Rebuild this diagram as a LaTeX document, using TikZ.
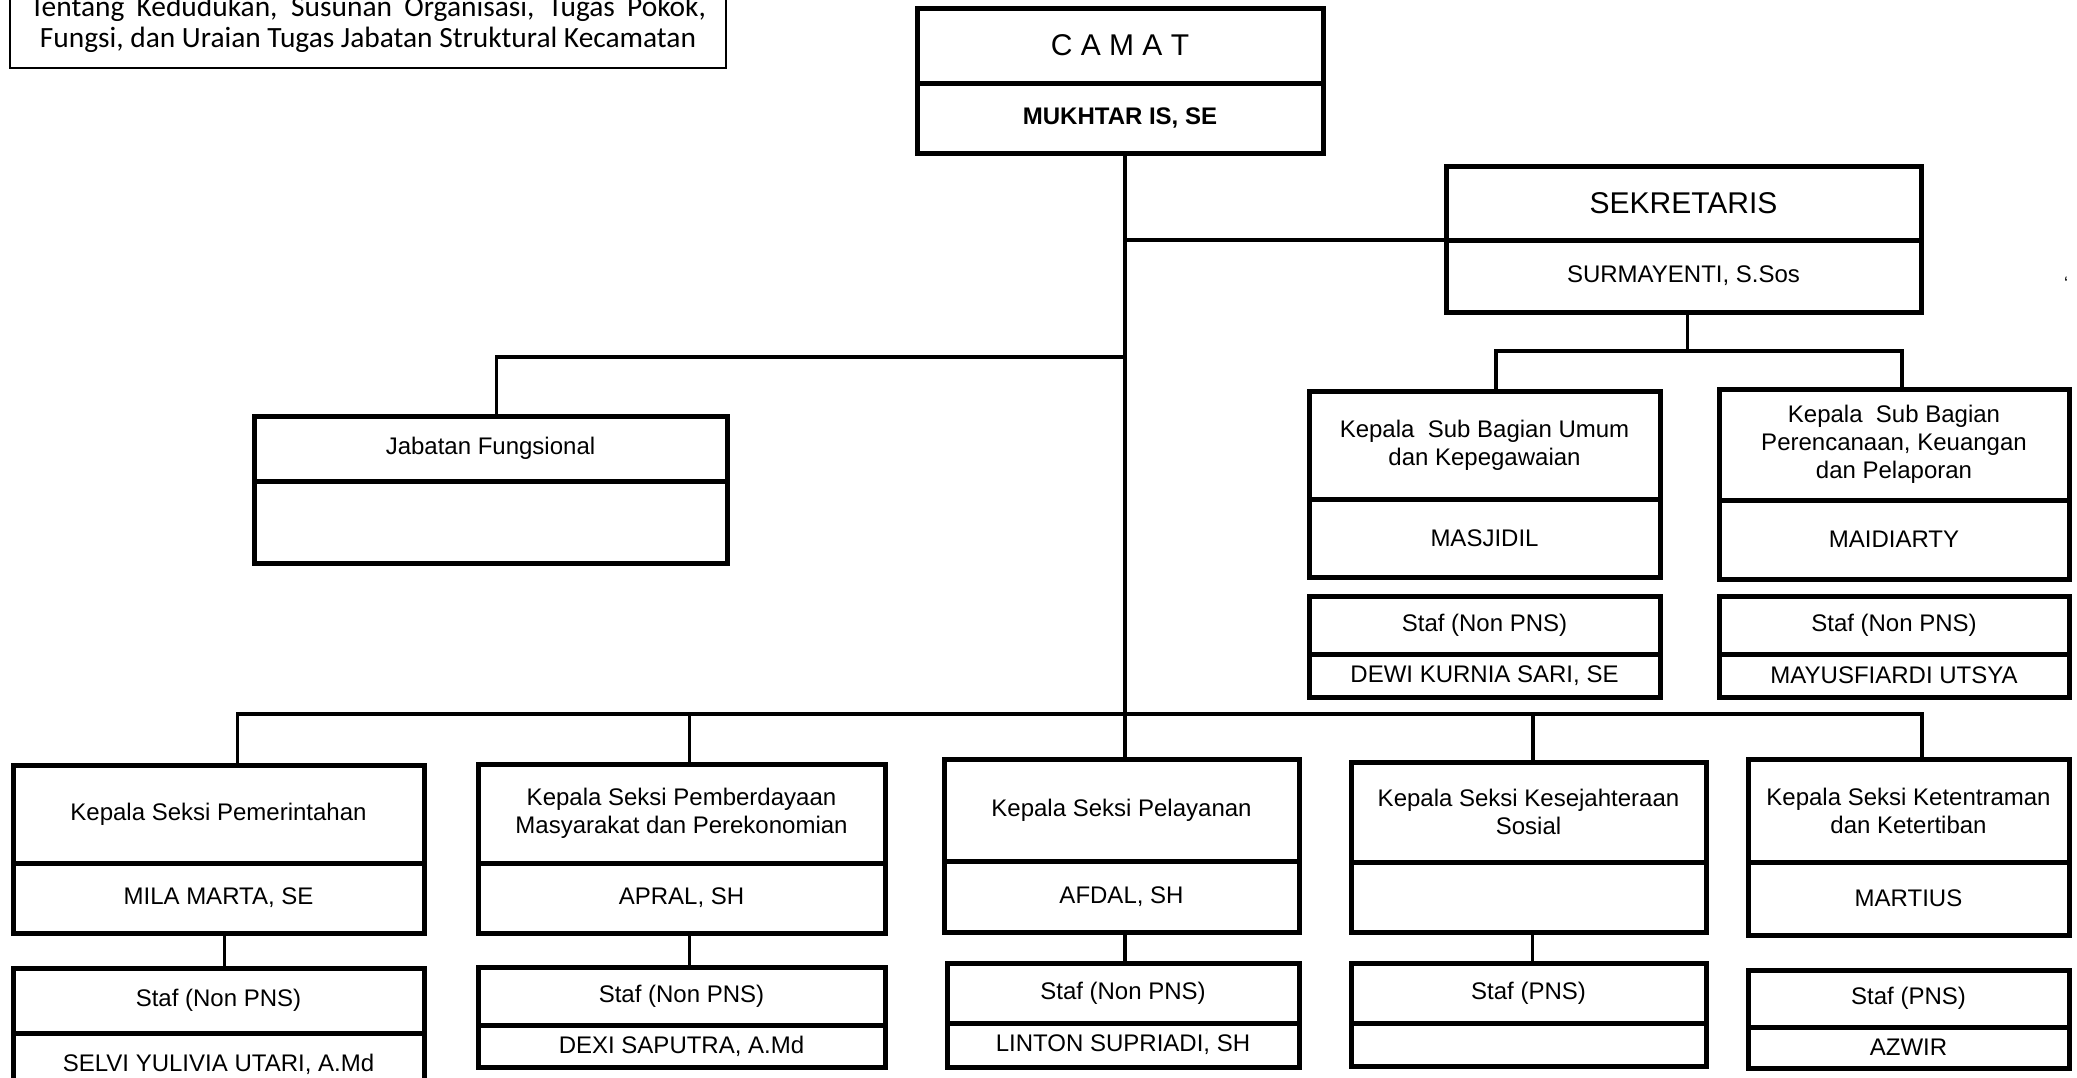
\documentclass[tikz,border=0pt]{standalone}
\usepackage{fontspec}
\setmainfont{Liberation Sans}
\newfontfamily\calfont{Carlito}
\newcommand\partbox[6]{%
  \node[part, minimum width={(#4-#2)*0.5pt}, minimum height={(#5-#3)*0.5pt}] (#1) at (#2,#3) {#6};}
\begin{document}
\begin{tikzpicture}[x=0.5pt,y=-0.5pt,
  part/.style={draw, line width=2.5pt, anchor=north west, inner sep=0pt, outer sep=0pt,
    align=center, font=\fontsize{12}{14}\selectfont},
  conn/.style={line width=1.75pt},
  notebox/.style={draw, line width=0.9pt, anchor=south, inner xsep=0pt, inner ysep=0pt,
    minimum width=358pt, align=center, font=\calfont\fontsize{14.7}{15.3}\selectfont}]
\useasboundingbox (0,0) rectangle (2077,1077);
\fill[white] (0,0) rectangle (2077,1077);
\clip (0,0) rectangle (2077,1077);

% note box (partly cut at the top)
\node[notebox] (note) at (368,69)
  {\makebox[338pt][s]{Tentang Kedudukan, Susunan Organisasi, Tugas Pokok,}\\
   Fungsi, dan Uraian Tugas Jabatan Struktural Kecamatan\rule[-10.5pt]{0pt}{1pt}};

% Camat
\partbox{camat-t}{917}{8}{1323}{83}{\fontsize{15}{18}\selectfont C A M A T}
\partbox{camat-b}{917}{83}{1323}{153}{\bfseries MUKHTAR IS, SE}
% Sekretaris
\partbox{sek-t}{1446}{166}{1921}{240}{\fontsize{15}{18}\selectfont SEKRETARIS}
\partbox{sek-b}{1446}{240}{1921}{312}{SURMAYENTI, S.Sos}
\node[font=\fontsize{9}{9}\selectfont] (tick) at (2066,283) {‘};
% Jabatan Fungsional
\partbox{jab-t}{254}{416}{727}{481}{Jabatan Fungsional}
\partbox{jab-b}{254}{481}{727}{563}{}
% Sub bagian
\partbox{umum-t}{1309}{391}{1660}{499}{Kepala\ \ Sub Bagian Umum\\dan Kepegawaian}
\partbox{umum-b}{1309}{499}{1660}{577}{MASJIDIL}
\partbox{umum-s}{1309}{596}{1660}{654}{Staf (Non PNS)}
\partbox{umum-n}{1309}{654}{1660}{697}{DEWI KURNIA SARI, SE}
\partbox{ren-t}{1719}{389}{2069}{500}{Kepala\ \ Sub Bagian\\Perencanaan, Keuangan\\dan Pelaporan}
\partbox{ren-b}{1719}{500}{2069}{579}{MAIDIARTY}
\partbox{ren-s}{1719}{596}{2069}{654}{Staf (Non PNS)}
\partbox{ren-n}{1719}{654}{2069}{697}{MAYUSFIARDI UTSYA}
% Seksi
\partbox{pem-t}{13}{765}{424}{863}{Kepala Seksi Pemerintahan}
\partbox{pem-b}{13}{863}{424}{933}{MILA MARTA, SE}
\partbox{pem-s}{13}{968}{424}{1033}{Staf (Non PNS)}
\partbox{pem-n}{13}{1033}{424}{1095}{SELVI YULIVIA UTARI, A.Md}
\partbox{pmb-t}{478}{764}{885}{863}{Kepala Seksi Pemberdayaan\\Masyarakat dan Perekonomian}
\partbox{pmb-b}{478}{863}{885}{933}{APRAL, SH}
\partbox{pmb-s}{478}{967}{885}{1025}{Staf (Non PNS)}
\partbox{pmb-n}{478}{1025}{885}{1067}{DEXI SAPUTRA, A.Md}
\partbox{pel-t}{944}{759}{1299}{861}{Kepala Seksi Pelayanan}
\partbox{pel-b}{944}{861}{1299}{932}{AFDAL, SH}
\partbox{pel-s}{947}{963}{1299}{1023}{Staf (Non PNS)}
\partbox{pel-n}{947}{1023}{1299}{1067}{LINTON SUPRIADI, SH}
\partbox{kes-t}{1351}{762}{1706}{862}{Kepala Seksi Kesejahteraan\\Sosial}
\partbox{kes-b}{1351}{862}{1706}{932}{}
\partbox{kes-s}{1351}{963}{1706}{1023}{Staf (PNS)}
\partbox{kes-n}{1351}{1023}{1706}{1066}{}
\partbox{ket-t}{1748}{759}{2069}{862}{Kepala Seksi Ketentraman\\dan Ketertiban}
\partbox{ket-b}{1748}{862}{2069}{935}{MARTIUS}
\partbox{ket-s}{1748}{970}{2069}{1027}{Staf (PNS)}
\partbox{ket-n}{1748}{1027}{2069}{1068}{AZWIR}

% helper levels
\coordinate (jaby) at (0,357);
\coordinate (seky) at (0,351);
\coordinate (busy) at (0,714);

% connectors
\draw[conn] ([xshift=2.5pt]camat-b.south) coordinate (trk) -- (trk |- pel-t.north);
\draw[conn] (trk |- sek-t.south west) -- (sek-t.south west);
\draw[conn] (trk |- jaby) -| ([xshift=3pt]jab-t.north);
\draw[conn] ([xshift=2pt]sek-b.south) coordinate (skx) -- (skx |- seky);
\draw[conn] ([xshift=5.75pt]umum-t.north) coordinate (umx) -- (umx |- seky)
  -- ([xshift=4pt]ren-t.north |- seky) -- ([xshift=4pt]ren-t.north);
\draw[conn] ([xshift=9.5pt]pem-t.north) coordinate (pmx) -- (pmx |- busy)
  -- ([xshift=6.75pt]ket-t.north |- busy) -- ([xshift=6.75pt]ket-t.north);
\draw[conn] ([xshift=4pt]pmb-t.north) coordinate (pbx) -- (pbx |- busy);
\draw[conn] ([xshift=2.25pt]kes-t.north) coordinate (ksx) -- (ksx |- busy);
% seksi to staf
\draw[conn] ([xshift=3pt]pem-b.south) -- ([xshift=3pt]pem-s.north);
\draw[conn] ([xshift=4pt]pmb-b.south) -- ([xshift=4pt]pmb-b.south |- pmb-s.north);
\draw[conn] (trk |- pel-b.south) -- (trk |- pel-s.north);
\draw[conn] ([xshift=2pt]kes-b.south) -- ([xshift=2pt]kes-s.north);
\end{tikzpicture}
\end{document}
